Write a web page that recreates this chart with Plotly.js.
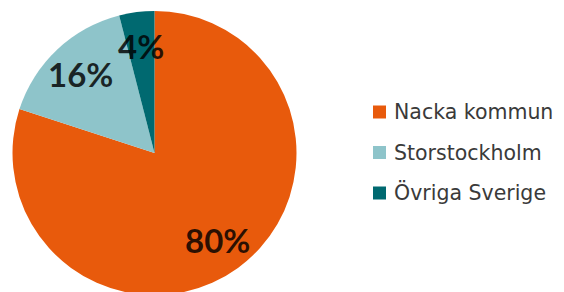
<!DOCTYPE html>
<html>
<head>
<meta charset="utf-8">
<script src="https://cdn.plot.ly/plotly-3.0.1.min.js"></script>
<style>
html,body{margin:0;padding:0;overflow:hidden;background:#fff;}
#chart{width:564px;height:296px;}
</style>
</head>
<body>
<div id="chart"></div>
<script>
const labels = ["Nacka kommun", "Storstockholm", "Övriga Sverige"];
const values = [80, 16, 4];
const colors = ["#E85A0C", "#8EC4CA", "#006970"];

const W = 564, H = 296;
const cxPx = 154.5, cyPx = 153, R = 142;

const total = values.reduce((a, b) => a + b, 0);
const annotations = [];
const shapes = [];
let cum = 0;
values.forEach((v, i) => {
  const mid = (cum + v / 2) / total * 2 * Math.PI;
  cum += v;
  const px = cxPx + 0.76 * R * Math.sin(mid);
  const py = cyPx - 0.76 * R * Math.cos(mid);
  annotations.push({
    xref: "paper", yref: "paper",
    x: px / W, y: 1 - py / H,
    text: "<b>" + Math.round(v / total * 100) + "%</b>",
    showarrow: false,
    xanchor: "center", yanchor: "middle",
    font: {family: "Lato, 'Open Sans', sans-serif", size: 33, color: "rgba(0,0,0,0.82)"}
  });
});

// legend
const legY0 = 112, legStep = 40.5, sq = 13, legX = 373;
labels.forEach((lab, i) => {
  const yc = legY0 + i * legStep;
  shapes.push({
    type: "rect", xref: "paper", yref: "paper",
    x0: legX / W, x1: (legX + sq) / W,
    y0: 1 - (yc + sq / 2) / H, y1: 1 - (yc - sq / 2) / H,
    fillcolor: colors[i], line: {width: 0}
  });
  annotations.push({
    xref: "paper", yref: "paper",
    x: 392 / W, y: 1 - yc / H,
    text: lab, showarrow: false,
    xanchor: "left", yanchor: "middle",
    font: {family: "'DejaVu Sans', sans-serif", size: 20.5, color: "#3a3a3a"}
  });
});

const trace = {
  type: "pie",
  labels: labels,
  values: values,
  sort: false,
  direction: "clockwise",
  rotation: 0,
  marker: {colors: colors, line: {width: 0}},
  textinfo: "none",
  hoverinfo: "label+percent",
  showlegend: false,
  domain: {x: [(cxPx - R) / W, (cxPx + R) / W], y: [(H - cyPx - R) / H, (H - cyPx + R) / H]}
};

Plotly.newPlot("chart", [trace], {
  width: W, height: H,
  margin: {l: 0, r: 0, t: 0, b: 0},
  paper_bgcolor: "#ffffff",
  showlegend: false,
  annotations: annotations,
  shapes: shapes
}, {displayModeBar: false, staticPlot: true});
</script>
</body>
</html>
